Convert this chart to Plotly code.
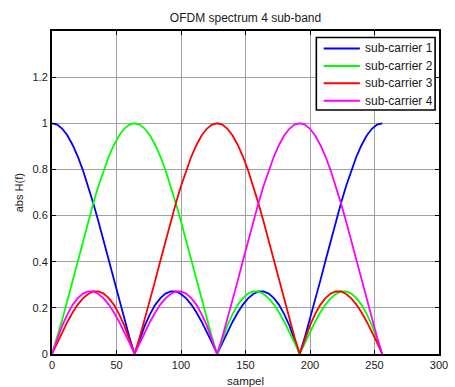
import plotly.graph_objects as go

# sample index (every 4th sample)
sampel = list(range(0, 257, 4))

# |H(f)| for each sub-carrier
sub_carrier_1 = [1.000, 0.994, 0.976, 0.947, 0.906, 0.856, 0.796, 0.728, 0.653, 0.574, 0.490, 0.404, 0.318, 0.233, 0.151, 0.073, 0.000,
                 0.066, 0.124, 0.173, 0.213, 0.242, 0.262, 0.271, 0.271, 0.260, 0.241, 0.214, 0.180, 0.140, 0.096, 0.049, 0.000,
                 0.049, 0.096, 0.140, 0.180, 0.214, 0.241, 0.260, 0.271, 0.271, 0.262, 0.242, 0.213, 0.173, 0.124, 0.066, 0.000,
                 0.073, 0.151, 0.233, 0.318, 0.404, 0.490, 0.574, 0.653, 0.728, 0.796, 0.856, 0.906, 0.947, 0.976, 0.994, 1.000]
sub_carrier_2 = [0.000, 0.073, 0.151, 0.233, 0.318, 0.404, 0.490, 0.574, 0.653, 0.728, 0.796, 0.856, 0.906, 0.947, 0.976, 0.994, 1.000,
                 0.994, 0.976, 0.947, 0.906, 0.856, 0.796, 0.728, 0.653, 0.574, 0.490, 0.404, 0.318, 0.233, 0.151, 0.073, 0.000,
                 0.066, 0.124, 0.173, 0.213, 0.242, 0.262, 0.271, 0.271, 0.260, 0.241, 0.214, 0.180, 0.140, 0.096, 0.049, 0.000,
                 0.049, 0.096, 0.140, 0.180, 0.214, 0.241, 0.260, 0.271, 0.271, 0.262, 0.242, 0.213, 0.173, 0.124, 0.066, 0.000]
sub_carrier_3 = [0.000, 0.049, 0.096, 0.140, 0.180, 0.214, 0.241, 0.260, 0.271, 0.271, 0.262, 0.242, 0.213, 0.173, 0.124, 0.066, 0.000,
                 0.073, 0.151, 0.233, 0.318, 0.404, 0.490, 0.574, 0.653, 0.728, 0.796, 0.856, 0.906, 0.947, 0.976, 0.994, 1.000,
                 0.994, 0.976, 0.947, 0.906, 0.856, 0.796, 0.728, 0.653, 0.574, 0.490, 0.404, 0.318, 0.233, 0.151, 0.073, 0.000,
                 0.066, 0.124, 0.173, 0.213, 0.242, 0.262, 0.271, 0.271, 0.260, 0.241, 0.214, 0.180, 0.140, 0.096, 0.049, 0.000]
sub_carrier_4 = [0.000, 0.066, 0.124, 0.173, 0.213, 0.242, 0.262, 0.271, 0.271, 0.260, 0.241, 0.214, 0.180, 0.140, 0.096, 0.049, 0.000,
                 0.049, 0.096, 0.140, 0.180, 0.214, 0.241, 0.260, 0.271, 0.271, 0.262, 0.242, 0.213, 0.173, 0.124, 0.066, 0.000,
                 0.073, 0.151, 0.233, 0.318, 0.404, 0.490, 0.574, 0.653, 0.728, 0.796, 0.856, 0.906, 0.947, 0.976, 0.994, 1.000,
                 0.994, 0.976, 0.947, 0.906, 0.856, 0.796, 0.728, 0.653, 0.574, 0.490, 0.404, 0.318, 0.233, 0.151, 0.073, 0.000]

series_names = ["sub-carrier 1", "sub-carrier 2", "sub-carrier 3", "sub-carrier 4"]
series_values = [sub_carrier_1, sub_carrier_2, sub_carrier_3, sub_carrier_4]
series_colors = ["#0000ff", "#00ff00", "#ff0000", "#ff00ff"]

x_ticks = [0, 50, 100, 150, 200, 250, 300]
y_ticks = [0, 0.2, 0.4, 0.6, 0.8, 1.0, 1.2]
y_tick_labels = ["0", "0.2", "0.4", "0.6", "0.8", "1", "1.2"]

FONT = "Arial, Liberation Sans, sans-serif"
TXT = "#1a1a1a"

W, H = 455, 387
ML, MR, MT, MB = 52, 7, 31, 33
plot_w = W - ML - MR
plot_h = H - MT - MB


def px(xp):
    return (xp - ML) / plot_w


def py(yp):
    return (H - MB - yp) / plot_h


fig = go.Figure()
for name, vals, col in zip(series_names, series_values, series_colors):
    fig.add_trace(go.Scatter(x=sampel, y=vals, mode="lines", name=name,
                             line=dict(color=col, width=1.8), showlegend=False))

axis_common = dict(showline=True, linecolor="black", linewidth=2, mirror="ticks",
                   ticks="inside", ticklen=4, tickcolor="black", tickwidth=1,
                   showgrid=True, gridcolor="#a0a0a0", gridwidth=1, zeroline=False,
                   ticklabeloverflow="allow",
                   tickfont=dict(family=FONT, size=11, color=TXT))

# legend box drawn in the upper-right corner of the axes (MATLAB style)
shapes = [dict(type="rect", xref="paper", yref="paper",
               x0=px(322.5), x1=px(444), y0=py(110), y1=py(37.5),
               line=dict(color="black", width=1.6), fillcolor="white", layer="above")]
annotations = []
for i, (name, col) in enumerate(zip(series_names, series_colors)):
    yrow = 48.5 + 17.4 * i
    shapes.append(dict(type="line", xref="paper", yref="paper",
                       x0=px(330), x1=px(367), y0=py(yrow), y1=py(yrow),
                       line=dict(color=col, width=2), layer="above"))
    annotations.append(dict(text=name, x=px(370), y=py(yrow), xref="paper", yref="paper",
                            xanchor="left", yanchor="middle", showarrow=False,
                            font=dict(family=FONT, size=12, color=TXT)))

annotations += [
    dict(text="sampel", x=0.5, xref="paper", y=py(381), yref="paper",
         yanchor="middle", showarrow=False,
         font=dict(family=FONT, size=11.5, color=TXT)),
    dict(text="abs H(f)", textangle=-90, x=px(18), xref="paper",
         xanchor="center", y=0.5, yref="paper",
         showarrow=False, font=dict(family=FONT, size=11, color=TXT)),
]

fig.update_layout(
    width=W, height=H,
    margin=dict(l=ML, r=MR, t=MT, b=MB),
    paper_bgcolor="white", plot_bgcolor="white",
    font=dict(family=FONT, size=12, color=TXT),
    title=dict(text="OFDM spectrum 4 sub-band", x=0.5, xref="paper", xanchor="center",
               y=1 - 18 / H, yref="container", yanchor="middle",
               font=dict(family=FONT, size=12, color=TXT)),
    xaxis=dict(range=[0, 300], tickvals=x_ticks, **axis_common),
    yaxis=dict(range=[0, 1.4], tickvals=y_ticks, ticktext=y_tick_labels, **axis_common),
    showlegend=False,
    shapes=shapes,
    annotations=annotations,
)

fig.write_html("out.html", config={"displayModeBar": False},
               post_script="document.body.style.margin='0';document.body.style.overflow='hidden';")
